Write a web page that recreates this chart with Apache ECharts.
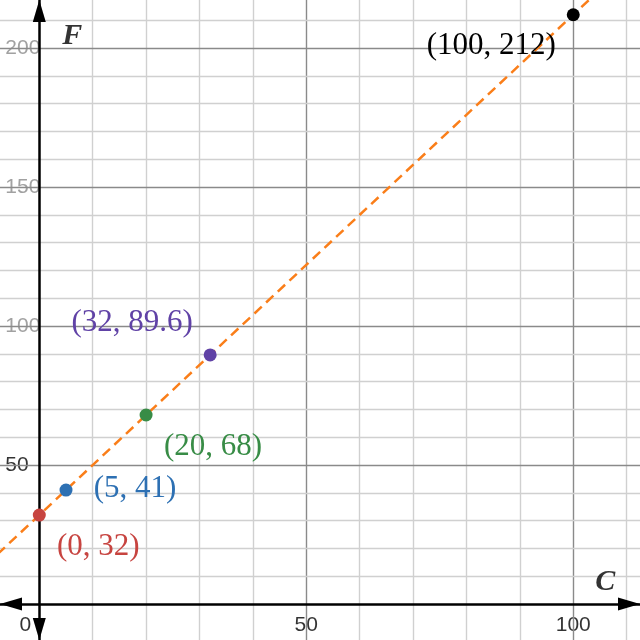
<!DOCTYPE html>
<html>
<head>
<meta charset="utf-8">
<script src="https://cdn.jsdelivr.net/npm/echarts@6/dist/echarts.min.js"></script>
<style>
  html, body { margin: 0; padding: 0; background: #fff; }
  #chart { width: 640px; height: 640px; }
</style>
</head>
<body>
<div id="chart"></div>
<script>
// celsius -> fahrenheit points
var pointC = [0, 5, 20, 32, 100];
var pointF = [32, 41, 68, 89.6, 212];
// dashed line end points
var lineC = [-10, 120];
var lineF = [14, 248];
// axis labels
var xTicks = [0, 50, 100];
var yTicks = [50, 100, 150, 200];
// grid lines
var xGrid = [10, 20, 30, 40, 50, 60, 70, 80, 90, 100, 110];
var yGrid = [10, 20, 30, 40, 50, 60, 70, 80, 90, 100, 110, 120, 130, 140, 150, 160, 170, 180, 190, 200, 210];

// styles
var pointColors = ['#c74440', '#2d70b3', '#388c46', '#6042a6', '#000000'];
var labelOffsets = [[59, 32], [69, -1], [67, 32], [-78, -32], [-82, 31]];

var chart = echarts.init(document.getElementById('chart'));

function gridLine(key, v) {
  var o = { lineStyle: { color: v % 50 === 0 ? '#8a8a8a' : '#d0d0d0', width: 1.4, type: 'solid' } };
  o[key] = v;
  return o;
}

var gridData = xGrid.map(function (v) { return gridLine('xAxis', v); })
  .concat(yGrid.map(function (v) { return gridLine('yAxis', v); }));

var points = pointC.map(function (c, i) {
  return {
    value: [c, pointF[i]],
    itemStyle: { color: pointColors[i], opacity: 1 },
    label: {
      color: pointColors[i],
      offset: labelOffsets[i],
      formatter: '(' + c + ', ' + pointF[i] + ')'
    }
  };
});

// tick labels sit next to the axes (axes cross at 0,0)
var tickLabels = xTicks.map(function (v) {
  return { value: [v, 0], label: { formatter: String(v), offset: [v === 0 ? -14 : 0, 21], color: '#000' } };
}).concat(yTicks.map(function (v) {
  return { value: [0, v], label: { formatter: String(v), align: 'left', offset: [-34, 0], color: v === 50 ? '#000' : '#8a8a8a' } };
}));

var axisLineOpt = {
  onZero: true,
  lineStyle: { color: '#000', width: 2.5 },
  symbol: ['triangle', 'triangle'],
  symbolSize: [13, 22],
  symbolOffset: [11, -11]
};

var option = {
  animation: false,
  grid: { left: 0, right: 0, top: 0, bottom: 0, containLabel: false, outerBoundsMode: 'none' },
  xAxis: {
    type: 'value',
    min: -7.36,
    max: 112.5,
    z: 5,
    axisLine: axisLineOpt,
    axisTick: { show: false },
    splitLine: { show: false },
    axisLabel: { show: false }
  },
  yAxis: {
    type: 'value',
    min: -12.95,
    max: 217.3,
    z: 5,
    axisLine: axisLineOpt,
    axisTick: { show: false },
    splitLine: { show: false },
    axisLabel: { show: false }
  },
  series: [
    {
      name: 'grid',
      type: 'line',
      data: [],
      z: 1,
      silent: true,
      markLine: {
        silent: true,
        symbol: ['none', 'none'],
        label: { show: false },
        animation: false,
        data: gridData
      }
    },
    {
      name: 'ticks',
      type: 'scatter',
      z: 4,
      symbolSize: 0,
      silent: true,
      data: tickLabels,
      label: {
        show: true, position: 'inside', fontSize: 21, fontFamily: 'Liberation Sans',
        textBorderColor: '#fff', textBorderWidth: 2
      }
    },
    {
      name: 'F = 1.8C + 32',
      type: 'line',
      z: 6,
      symbol: 'none',
      data: lineC.map(function (c, i) { return [c, lineF[i]]; }),
      lineStyle: { color: '#fa7e19', width: 2.5, type: [10, 6] }
    },
    {
      name: 'points',
      type: 'scatter',
      z: 7,
      symbolSize: 13,
      data: points,
      label: {
        show: true,
        position: 'inside',
        fontSize: 31,
        fontFamily: 'Liberation Serif'
      }
    },
    {
      name: 'names',
      type: 'scatter',
      z: 8,
      symbolSize: 0,
      silent: true,
      data: [
        { value: [0, 200], label: { formatter: 'F', offset: [33, -12] } },
        { value: [100, 0], label: { formatter: 'C', offset: [32, -22] } }
      ],
      label: { show: true, position: 'inside', color: '#000', fontSize: 30, fontStyle: 'italic', fontWeight: 'bold', fontFamily: 'Liberation Serif' }
    }
  ]
};

chart.setOption(option);
</script>
</body>
</html>
